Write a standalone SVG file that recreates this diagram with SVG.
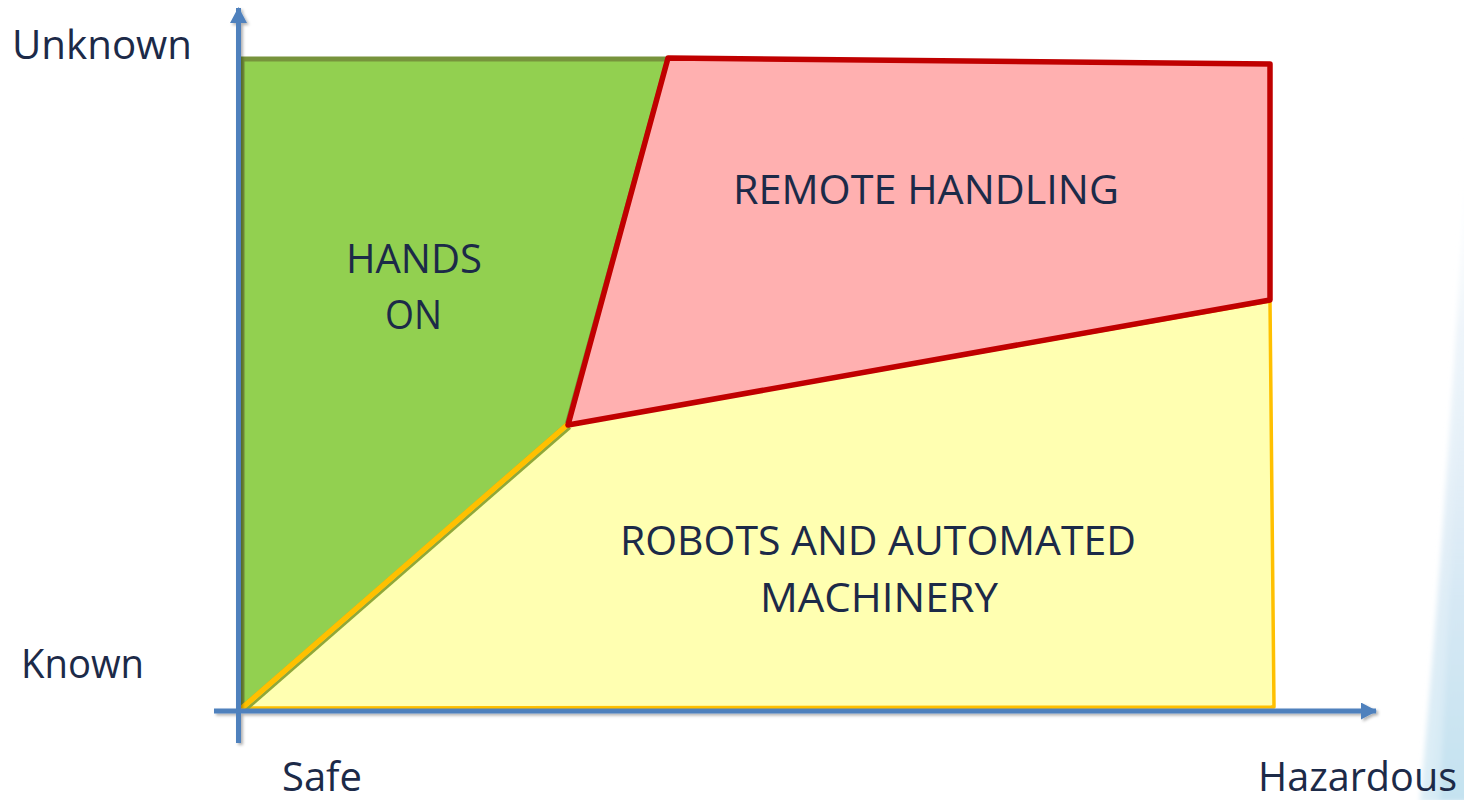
<svg xmlns="http://www.w3.org/2000/svg" width="1464" height="800" viewBox="0 0 1464 800">
  <defs>
    <linearGradient id="swooshGrad" x1="0" y1="0" x2="0" y2="1">
      <stop offset="0" stop-color="#ffffff" stop-opacity="0"/>
      <stop offset="0.3" stop-color="#e6f0f8" stop-opacity="0.7"/>
      <stop offset="0.7" stop-color="#d6e8f4"/>
      <stop offset="1" stop-color="#c4e2f0"/>
    </linearGradient>
    <linearGradient id="swooshEdge" x1="0" y1="0" x2="1" y2="0">
      <stop offset="0" stop-color="#ffffff" stop-opacity="0.9"/>
      <stop offset="1" stop-color="#ffffff" stop-opacity="0"/>
    </linearGradient>
    <filter id="soft" x="-20%" y="-5%" width="140%" height="110%">
      <feGaussianBlur stdDeviation="2.5"/>
    </filter>
    <filter id="axisShadow" x="-5%" y="-5%" width="110%" height="110%">
      <feDropShadow dx="2" dy="2" stdDeviation="1.5" flood-color="#000000" flood-opacity="0.3"/>
    </filter>
    <marker id="arrowHead" viewBox="0 0 16 17" refX="15" refY="8.5" markerWidth="16" markerHeight="17" markerUnits="userSpaceOnUse" orient="auto">
      <path d="M0,0 L16,8.5 L0,17 Z" fill="#4f81bd"/>
    </marker>
  </defs>
  <style>
    .label { font-family: "Open Sans", "Liberation Sans", sans-serif; font-size: 40px; fill: #1c2a48; }
    .axis { stroke: #4f81bd; stroke-width: 5; fill: none; }
  </style>

  <rect width="1464" height="800" fill="#ffffff"/>

  <!-- decorative background swoosh on the right edge -->
  <g id="background" filter="url(#soft)">
    <path d="M1466,130 C1460,300 1442,560 1420,802 L1470,802 L1470,130 Z" fill="url(#swooshGrad)"/>
    <path d="M1466,130 C1460,300 1442,560 1420,802 L1440,802 C1452,560 1464,320 1466,130 Z" fill="url(#swooshEdge)" opacity="0.5"/>
  </g>

  <!-- regions -->
  <g id="hands-on">
    <polygon points="242,59 668,59 567,425 242,708" fill="#92d050" stroke="#77933c" stroke-width="5" stroke-linejoin="miter"/>
    <text class="label" x="346" y="273" textLength="136" lengthAdjust="spacingAndGlyphs">HANDS</text>
    <text class="label" x="385" y="329" textLength="57" lengthAdjust="spacingAndGlyphs">ON</text>
  </g>

  <g id="robots">
    <polygon points="242,708 567,425 1270,301 1274,707" fill="#ffffb1" stroke="#ffc000" stroke-width="3.5" stroke-linejoin="round"/>
    <line x1="245" y1="710.5" x2="570" y2="427.5" stroke="#8fa83a" stroke-width="3"/>
    <line x1="242" y1="708" x2="567" y2="425" stroke="#ffc000" stroke-width="5.5" stroke-linecap="round"/>
    <text class="label" x="620" y="555" textLength="516" lengthAdjust="spacingAndGlyphs">ROBOTS AND AUTOMATED</text>
    <text class="label" x="760" y="612" textLength="238" lengthAdjust="spacingAndGlyphs">MACHINERY</text>
  </g>

  <g id="remote-handling">
    <polygon points="668,58 1270,64 1270,300 568,425" fill="#ffb0b0" stroke="#c00000" stroke-width="5.5" stroke-linejoin="round"/>
    <text class="label" x="733" y="204" textLength="386" lengthAdjust="spacingAndGlyphs">REMOTE HANDLING</text>
  </g>

  <!-- axes -->
  <g id="connectors" filter="url(#axisShadow)">
    <line class="axis" x1="238.5" y1="743" x2="238.5" y2="8" marker-end="url(#arrowHead)"/>
    <line class="axis" x1="214" y1="711" x2="1376" y2="711" marker-end="url(#arrowHead)"/>
  </g>

  <!-- axis labels -->
  <g id="axis-labels">
    <text class="label" x="12" y="59" textLength="180" lengthAdjust="spacingAndGlyphs">Unknown</text>
    <text class="label" x="21" y="678" textLength="123" lengthAdjust="spacingAndGlyphs">Known</text>
    <text class="label" x="282" y="791" textLength="80" lengthAdjust="spacingAndGlyphs">Safe</text>
    <text class="label" x="1258" y="791" textLength="199" lengthAdjust="spacingAndGlyphs">Hazardous</text>
  </g>
</svg>
